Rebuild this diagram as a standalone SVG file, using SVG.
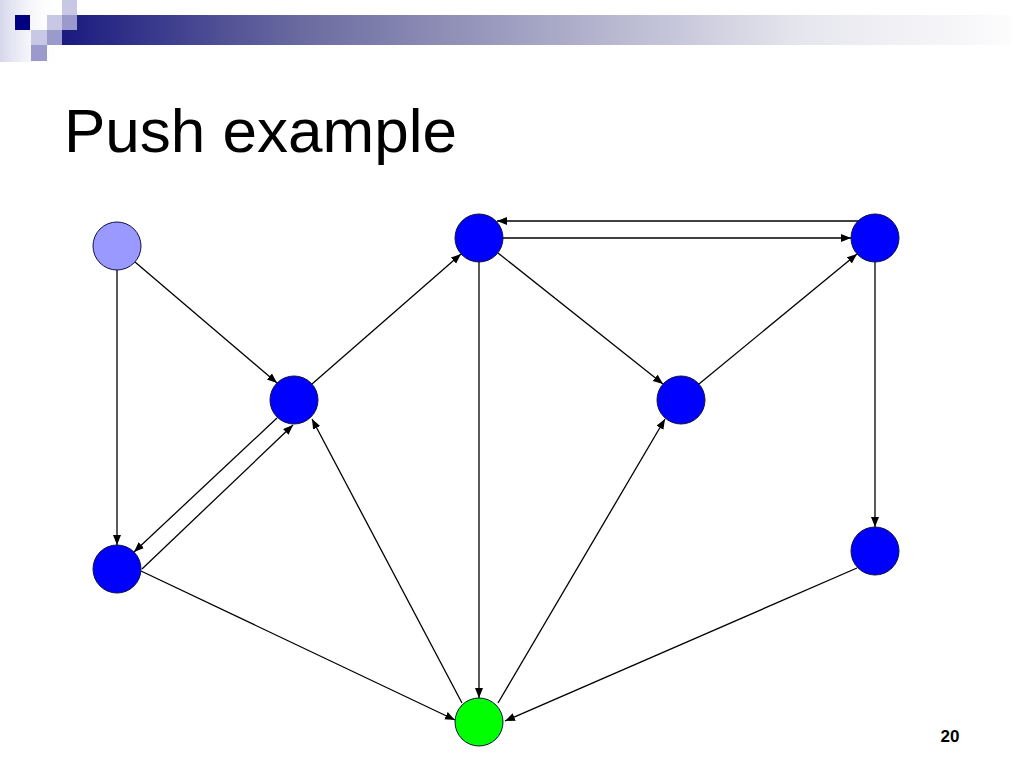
<svg xmlns="http://www.w3.org/2000/svg" width="1024" height="768" viewBox="0 0 1024 768">
<defs>
<linearGradient id="bar" x1="62" y1="0" x2="1010" y2="0" gradientUnits="userSpaceOnUse">
<stop offset="0" stop-color="#1a1a80"/>
<stop offset="0.25" stop-color="#6a6aa0"/>
<stop offset="0.78" stop-color="#e6e6ee"/>
<stop offset="1" stop-color="#fcfcfd"/>
</linearGradient>
<linearGradient id="side" x1="0" y1="0" x2="1" y2="0">
<stop offset="0" stop-color="#d6d6ec"/>
<stop offset="1" stop-color="#ffffff" stop-opacity="0"/>
</linearGradient>
<marker id="arr" markerWidth="11" markerHeight="9" refX="10" refY="4" orient="auto" markerUnits="userSpaceOnUse">
<path d="M0,0 L10,4 L0,8 z" fill="#000"/>
</marker>
<style>
.e{stroke:#000;stroke-width:1.3;fill:none;marker-end:url(#arr)}
.n{stroke:#101040;stroke-width:1}
.b{fill:#0000ff}
.t{font-family:"Liberation Sans",Arial,sans-serif}
</style>
</defs>
<g id="decor">
<rect x="0" y="0" width="60" height="62" fill="url(#side)"/>
<rect x="62" y="15" width="948" height="30" fill="url(#bar)"/>
<rect x="15" y="15" width="15" height="15" fill="#000080"/>
<rect x="47" y="15" width="15" height="15" fill="#c8c8e4"/>
<rect x="62" y="0" width="15" height="15" fill="#c8c8e4"/>
<rect x="62" y="15" width="15" height="15" fill="#9a9acc"/>
<rect x="31" y="30" width="16" height="15" fill="#c8c8e4"/>
<rect x="47" y="30" width="15" height="15" fill="#9a9acc"/>
<rect x="31" y="45" width="16" height="16" fill="#9a9acc"/>
</g>
<text class="t" x="64" y="152" font-size="62" fill="#000">Push example</text>
<g id="edges">
<line class="e" x1="117" y1="270" x2="117" y2="545"/>
<line class="e" x1="135" y1="262" x2="277" y2="383"/>
<line class="e" x1="312" y1="384" x2="461" y2="254"/>
<line class="e" x1="858" y1="221" x2="497" y2="221"/>
<line class="e" x1="503" y1="238" x2="851" y2="238"/>
<line class="e" x1="498" y1="253" x2="663" y2="384"/>
<line class="e" x1="699" y1="384" x2="857" y2="254"/>
<line class="e" x1="479" y1="262" x2="479" y2="698"/>
<line class="e" x1="875" y1="262" x2="875" y2="527"/>
<line class="e" x1="277" y1="418" x2="134" y2="552"/>
<line class="e" x1="142" y1="569" x2="293" y2="425"/>
<line class="e" x1="141" y1="571" x2="455" y2="720"/>
<line class="e" x1="462" y1="703" x2="312" y2="419"/>
<line class="e" x1="498" y1="703" x2="665" y2="419"/>
<line class="e" x1="857" y1="568" x2="505" y2="721"/>
</g>
<g id="nA"><circle class="n" cx="117" cy="246" r="24" fill="#9999ff"/></g>
<g id="nB"><circle class="n b" cx="294" cy="400" r="24"/></g>
<g id="nC"><circle class="n b" cx="479" cy="238" r="24"/></g>
<g id="nD"><circle class="n b" cx="875" cy="238" r="24"/></g>
<g id="nE"><circle class="n b" cx="681" cy="400" r="24"/></g>
<g id="nF"><circle class="n b" cx="117" cy="569" r="24"/></g>
<g id="nG"><circle class="n b" cx="875" cy="551" r="24"/></g>
<g id="nH"><circle class="n" cx="479" cy="722" r="24" fill="#00ff00"/></g>
<text class="t" x="950" y="742" font-size="17" font-weight="bold" text-anchor="middle" fill="#000">20</text>
</svg>
